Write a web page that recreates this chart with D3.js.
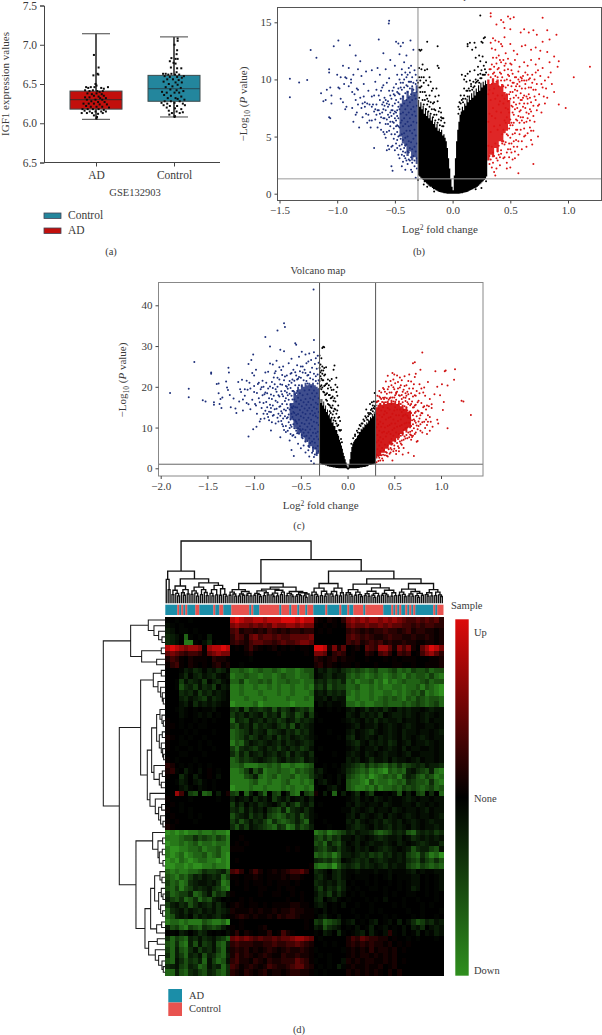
<!DOCTYPE html>
<html><head><meta charset="utf-8">
<script src="https://cdnjs.cloudflare.com/ajax/libs/d3/7.8.5/d3.min.js"></script>
<style>html,body{margin:0;padding:0;background:#fff}svg{display:block}text{font-family:"Liberation Serif",serif;fill:#3a3a3a}</style>
</head><body><svg id="c" width="602" height="1035"></svg>
<script>
// ---------- (a) box plot
const boxCategories=["AD","Control"];
const boxStats=[{min:6.05,q1:6.18,med:6.30,q3:6.41,max:7.14},{min:6.08,q1:6.28,med:6.44,q3:6.61,max:7.10}];
const boxTickValues=[5.5,6,6.5,7,7.5];
const boxTickLabels=["6.5","6.0","6.5","7.0","7.5"];
const adDots=[[-.08,6.87],[.1,6.71],[.06,6.63],[.09,6.62],[-.1,6.61],[-.02,6.5],[.02,6.48],[-.38,6.46],[-.3,6.45],[-.2,6.46],[-.06,6.46],[.2,6.45],[.46,6.46],[.3,6.44],[-.42,6.42],[-.25,6.41],[-.12,6.42],[.05,6.41],[.14,6.4],[.26,6.41],[-.33,6.38],[-.16,6.37],[.02,6.38],[.22,6.37],[-.08,6.35],[.1,6.34],[.3,6.35],[-.42,6.33],[-.25,6.33],[.16,6.32],[.38,6.32],[-.35,6.3],[-.02,6.3],[.24,6.3],[-.18,6.28],[.08,6.27],[.33,6.27],[-.48,6.25],[-.28,6.25],[-.08,6.25],[.14,6.24],[.42,6.24],[-.38,6.22],[-.2,6.21],[.02,6.21],[.24,6.21],[.5,6.2],[-.52,6.18],[-.32,6.18],[-.12,6.18],[.1,6.18],[.3,6.17],[-.44,6.16],[-.24,6.15],[-.02,6.15],[.2,6.15],[.38,6.15],[-.55,6.13],[-.35,6.13],[-.15,6.13],[.08,6.12],[.26,6.13],[-.08,6.1],[.04,6.08],[.02,6.06]];
const controlDots=[[.14,7.08],[.14,7.05],[.02,7.0],[.12,6.93],[.1,6.88],[-.1,6.83],[.06,6.82],[.14,6.82],[-.16,6.79],[-.02,6.77],[.06,6.76],[-.12,6.71],[.12,6.7],[.28,6.7],[.1,6.65],[-.42,6.63],[-.32,6.63],[-.22,6.62],[-.1,6.63],[.04,6.62],[.2,6.62],[.38,6.6],[-.36,6.6],[-.16,6.59],[.12,6.59],[.3,6.58],[-.26,6.56],[-.04,6.56],[.18,6.55],[-.4,6.53],[.06,6.52],[.3,6.52],[-.2,6.5],[.14,6.49],[-.32,6.46],[-.06,6.47],[.26,6.45],[-.14,6.43],[.1,6.42],[.36,6.41],[-.46,6.4],[-.28,6.39],[.02,6.39],[.2,6.39],[-.38,6.36],[-.12,6.35],[.28,6.34],[-.24,6.32],[.06,6.32],[.14,6.31],[.4,6.3],[-.36,6.28],[-.12,6.28],[.22,6.28],[-.48,6.26],[-.26,6.25],[.02,6.26],[.34,6.25],[-.4,6.23],[-.16,6.22],[.12,6.22],[.42,6.23],[-.28,6.2],[.04,6.19],[.28,6.18],[-.2,6.16],[.1,6.15],[.34,6.14],[-.08,6.13],[.22,6.13],[-.18,6.11],[.04,6.09],[.02,6.08]];
// ---------- (b) volcano
const bTicksX=[-1.5,-1,-.5,0,.5,1], bTicksY=[0,5,10,15];
const bBlackBand=[[-.3,1.6,8.2],[-.29,1.5,7.6],[-.28,1.4,8],[-.27,1.3,7.4],[-.26,1.2,7.7],[-.25,1,7],[-.24,1,7.5],[-.23,.9,6.8],[-.22,.8,7.2],[-.21,.7,6.6],[-.2,.6,6.9],[-.19,.6,6.4],[-.18,.5,6.7],[-.17,.4,6.1],[-.16,.4,6.3],[-.15,.3,5.8],[-.14,.25,6.1],[-.13,.2,5.5],[-.12,.15,5.7],[-.11,.12,5.4],[-.1,.1,5.6],[-.09,.08,5.1],[-.08,.05,5.2],[-.07,.03,4.9],[-.06,.02,4.6],[-.05,0,4],[-.04,0,3.1],[-.03,0,2.2],[-.02,0,1.3],[-.01,0,.6],[0,0,.3],[.01,0,1.6],[.02,0,3.1],[.03,0,4.6],[.04,0,5.6],[.05,0,6.3],[.06,.02,6.9],[.07,.03,7.2],[.08,.05,7.6],[.09,.08,7.3],[.1,.1,7.9],[.11,.12,7.7],[.12,.15,8.3],[.13,.2,8],[.14,.25,8.6],[.15,.3,8.2],[.16,.35,8.8],[.17,.4,8.4],[.18,.45,9],[.19,.5,8.6],[.2,.55,9.2],[.21,.6,8.9],[.22,.7,9.5],[.23,.8,9],[.24,.9,9.7],[.25,1,9.3],[.26,1.1,9.8],[.27,1.2,9.5],[.28,1.3,9.9],[.29,1.5,9.6],[.3,1.6,10]];
const bBlueBand=[[-.46,5,7.9],[-.44,4.4,8.6],[-.42,4.2,8.2],[-.4,3.3,9],[-.38,3.7,8.6],[-.36,2.9,9.3],[-.34,3.2,8.9],[-.32,2.6,9.5],[-.3,2.8,9.1]];
const bRedBand=[[.3,2.9,10],[.32,3.4,9.6],[.34,3.2,10.1],[.36,4,9.7],[.38,3.7,10],[.4,4.6,9.4],[.42,4.5,9.6],[.44,5.3,8.9],[.46,5.5,8.7],[.48,6.1,8.2],[.5,6.1,7.6]];
const bBlue=[-1.41,10.06,-1.41,8.45,-1.33,9.74,-1.26,9.94,-1.23,12.57,-1.18,11.9,-1.14,8.78,-1.12,8.1,-1.1,8.2,-1.09,9.1,-1.07,10.9,-1.07,10.6,-1.06,9.3,-1.05,8.6,-1.07,6.7,-1.06,6.6,-1.05,7.9,-1.03,12.9,-1,10.4,-.99,13.4,-.99,9.3,-.98,9.2,-.97,8.3,-.95,11.2,-.95,8,-.93,10.2,-.93,7.4,-.92,7.6,-.9,11,-.89,13,-.88,9.7,-.88,10,-.87,7.5,-.86,10.4,-.85,8.7,-.84,12.1,-.83,7.1,-.82,10.9,-.82,9.1,-.8,11.6,-.79,10.3,-.78,6.7,-.77,9.6,-.76,8,-.75,10.7,-.74,7.9,-.73,9,-.72,6.4,-.71,5.8,-.7,10.8,-.7,8.5,-.69,7.8,-.68,4,-.67,9.8,-.66,6.9,-.65,11,-.64,13.5,-.64,8.6,-.63,10.4,-.62,5.6,-.61,7.1,-.6,12.3,-.6,9.5,-.59,6.6,-.58,10.9,-.58,4.9,-.57,3.8,-.56,8.1,-.55,15.13,-.553,14.9,-.55,10.1,-.54,11.7,-.54,7.1,-.53,2.4,-.53,5.2,-.52,9,-.52,2,-.51,6.2,-.5,11.2,-.5,3.8,-.49,13.3,-.49,8.2,-.48,10.4,-.48,4.7,-.47,13.15,-.47,6.6,-.46,12.2,-.46,3.1,-.45,12.9,-.45,9.7,-.44,2.4,-.44,10.9,-.43,13.2,-.43,3.7,-.42,11.5,-.42,9.3,-.41,2.1,-.41,3.1,-.4,10.2,-.4,12.1,-.39,8.9,-.39,2.6,-.38,11,-.38,3.6,-.37,9.8,-.365,13.4,-.36,11.2,-.36,2.1,-.35,10.2,-.35,1.9,-.34,9.7,-.34,12.6,-.33,10.8,-.33,2.4,-.32,10.4,-.32,1.4,-.31,9.9,-.31,2.2,-.67,7.4,-.65,7.3,-.63,7,-.62,6.7,-.6,7.4,-.6,8,-.58,7.3,-.57,6.5,-.56,6.9,-.55,5.5,-.55,7.8,-.54,6.3,-.53,8.3,-.52,7.3,-.51,4.8,-.51,8.7,-.5,6.6,-.5,7.9,-.49,5.9,-.49,9.6,-.48,6.8,-.48,4,-.47,8.8,-.47,7.6,-.46,10,-.46,5.1,-.45,9.3,-.45,6.2,-.44,10.4,-.44,4.3,-.43,9.7,-.42,3.3,-.42,10,-.41,10.6,-.41,4.2,-.4,9.5,-.39,10.4,-.38,9.8,-.37,10.6,-.36,9.8,-.74,6.2,-.76,7.6,-.8,8.4,-.81,5.8,-.83,9.2,-.86,6.3,-.68,8.6,-.66,9.1,-.62,9,-.59,8.4,-.57,9.7,-.56,4.2,-.6,5.4];
const bBlueDense=[-.31,3.1,-.31,4.4,-.31,6.2,-.31,7.7,-.31,8.9,-.32,3.7,-.32,5.1,-.32,6.8,-.32,8.3,-.32,9.6,-.33,2.9,-.33,4.1,-.33,5.6,-.33,7.2,-.33,8.6,-.34,3.3,-.34,4.8,-.34,6.3,-.34,7.6,-.34,9.1,-.35,2.7,-.35,3.9,-.35,5.3,-.35,6.9,-.35,8.2,-.35,9.4,-.36,3.2,-.36,4.5,-.36,6,-.36,7.4,-.36,8.7,-.37,2.9,-.37,4,-.37,5.5,-.37,6.6,-.37,8,-.37,9.2,-.38,3,-.38,4.6,-.38,5.9,-.38,7.1,-.38,8.4,-.39,3.7,-.39,5,-.39,6.3,-.39,7.7,-.39,9.4,-.4,2.9,-.4,4.3,-.4,5.5,-.4,6.9,-.4,8.2,-.41,3.6,-.41,4.9,-.41,6.1,-.41,7.4,-.41,8.8,-.42,4,-.42,5.3,-.42,6.6,-.42,7.9,-.43,2.8,-.43,4.7,-.43,5.9,-.43,7.1,-.43,8.5,-.44,3.4,-.44,5.2,-.44,6.4,-.44,7.7,-.44,9.1,-.45,3.9,-.45,4.8,-.45,7,-.45,8.3,-.46,4.2,-.46,5.8,-.46,7.4,-.46,8.7,-.47,3.4,-.47,5,-.47,5.9,-.47,8,-.47,9.2,-.48,5.4,-.48,6,-.48,7.3,-.48,8.9,-.49,4.4,-.49,6.4,-.49,7.1,-.5,5.2,-.5,7.2,-.5,8.6,-.51,5.7,-.51,7,-.51,9.3,-.52,4.2,-.52,6.3,-.52,7.7,-.53,4.1,-.53,6.8,-.53,7.3,-.54,5.9,-.54,8.6,-.55,3.9,-.55,6.7,-.55,9,-.56,6.1,-.56,7.6,-.57,5.4,-.57,7.9,-.58,6.1,-.58,8.2,-.59,5.2,-.59,7.7,-.6,6.6,-.61,7.8,-.61,9.3,-.63,6.2,-.63,8.2,-.64,7.3,-.65,5.8,-.66,7.8,-.67,6.5,-.68,7.2,-.7,7.6,-.7,6.4,-.72,7.8,-.73,6.9,-.75,7,-.77,8.5,-.78,7.9,-.79,7.5,-.82,7.8,-.84,8.2,-.84,6.9,-.87,8.9,-.9,9.4,-.92,10.1,-.94,9.6,-.97,10.2];
const bRed=[.33,15.8,.33,15.5,.38,14.8,.42,15.2,.44,15,.45,14.5,.48,15.5,.5,15.3,.53,15.45,.78,15.4,.35,13.6,.33,13.2,.37,13.4,.4,13.3,.42,13.1,.45,13.7,.5,14.4,.59,14.1,.62,14.4,.66,14.1,.7,14.3,.73,13.9,.78,13.3,.82,14.3,.9,13.9,.84,13.5,.34,12.7,.37,12.6,.4,12.1,.43,12.9,.46,12.3,.5,13.1,.53,12.5,.56,12.2,.6,12.9,.63,13,.68,12.6,.72,12.8,.76,12.5,.82,12.4,.88,12,.92,11.6,.35,11.9,.38,11.4,.41,11.7,.45,11.2,.48,11.8,.51,11.3,.54,11.7,.58,11.1,.62,11.5,.65,11.2,.68,11.7,.72,11.3,.75,11.8,.78,11,.84,11.5,.91,11.1,1.19,11.1,1.05,10.2,.33,10.9,.36,10.6,.39,10.9,.42,10.5,.45,10.8,.48,10.4,.51,10.8,.54,10.2,.57,10.7,.6,10.1,.63,10.6,.66,10,.69,10.4,.72,10.6,.76,10.3,.8,9.9,.85,10.6,.52,9.7,.55,9.4,.58,9.8,.6,9.2,.63,9.6,.66,9.3,.69,9.7,.72,9.1,.75,8.7,.78,9.3,.82,8.4,.88,8.9,.92,7.8,.98,7.5,.5,8.9,.53,8.4,.56,9,.59,8.2,.62,8.6,.65,8.3,.68,8,.71,8.5,.74,7.7,.77,7.1,.8,7.9,.52,7.6,.55,7.8,.58,7.2,.61,7.6,.64,7.1,.67,7.4,.7,6.8,.48,7.4,.5,6.5,.53,6.9,.56,6.4,.59,6.7,.62,6.2,.65,6.6,.67,5.8,.7,5.5,.74,5,.46,6.2,.49,5.7,.52,6,.55,5.6,.58,5.2,.62,5,.68,4.7,.69,4.3,.64,4.1,.57,3.4,.44,5.6,.47,5.2,.5,4.9,.53,4.6,.56,4.1,.6,3.9,.45,4.3,.48,3.9,.51,3.6,.54,3.1,.7,2.6,.42,3.8,.44,3.1,.47,2.7,.5,2.3,.57,1.8,.4,3.4,.41,2.5,.38,2.2,.37,1.6,.34,2.3,.36,1.9,.32,2.6,.35,2.7,.39,2.9,.47,2.2];
const bRedDense=[.31,10.4,.31,8.7,.31,6.3,.31,4.2,.32,10.9,.32,9.1,.32,7,.32,3.3,.33,10.2,.33,8.2,.33,5.4,.33,3,.34,11.3,.34,9.6,.34,6.8,.34,4.1,.35,10.5,.35,8.8,.35,7.5,.35,3.6,.36,11.1,.36,9.2,.36,5.9,.36,3.3,.37,10.3,.37,8.3,.37,6.6,.37,4.4,.38,11.9,.38,9.8,.38,7.2,.38,3.1,.39,10.2,.39,8.6,.39,5.6,.39,3.7,.4,11,.4,9.4,.4,7.8,.4,4.2,.41,10.6,.41,8.1,.41,6,.41,3.2,.42,11.5,.42,9.9,.42,7.1,.42,3.5,.43,10.2,.43,8.6,.43,5.2,.43,4.4,.44,11.7,.44,9.4,.44,7.9,.44,4.6,.45,9.9,.45,8.3,.45,6.4,.45,3.2,.46,11.4,.46,9.3,.46,7.5,.46,4.5,.47,10,.47,8.7,.47,6.7,.47,3.6,.48,10.9,.48,9.5,.48,8.1,.48,5.1,.49,10.3,.49,8.7,.49,7.1,.49,4.4,.49,3.2,.5,11.4,.5,9.9,.5,8.3,.5,6,.5,3.9,.51,9.4,.51,7.7,.51,6.2,.51,4.4,.52,10.5,.52,8.9,.52,7.1,.52,5.2,.52,3,.53,9.7,.53,8,.53,6.2,.53,4.1,.54,9.1,.54,7.4,.54,5.3,.54,3.7,.55,10.2,.55,8.6,.55,6.5,.55,4.7,.56,9.6,.56,7.5,.56,5.6,.57,10,.57,8.4,.57,6.8,.57,4.6,.58,9.4,.58,7.9,.58,6.2,.59,10.2,.59,8.8,.59,7.3,.59,5.6,.6,9.9,.6,8.2,.6,6.4,.6,4.6,.61,10.3,.61,8.4,.61,6.7,.62,9.9,.62,7.9,.62,5.7,.63,9.2,.63,7.5,.63,5.1,.64,9.9,.64,8.5,.64,6.3,.65,10.4,.65,7.9,.65,5.3,.66,8.7,.66,7,.67,10.1,.67,8.4,.67,6.4,.68,9.3,.68,7.2,.68,5.5,.7,9.1,.7,7.7,.71,10,.71,6.3,.72,8.2,.73,9.6,.73,7.3,.74,10.8,.75,7.8,.77,9.6,.79,8.5,.81,9.2,.83,10.2,.86,9.6];
const bBlack=[-.29,12.6,-.27,12.6,-.28,12.5,-.22,13.3,-.13,12.9,-.29,11,-.27,10.9,-.26,11.3,-.24,10.8,-.22,10.9,-.2,10.2,-.27,10.2,-.25,9.7,-.23,9.9,-.21,9.5,-.19,9.8,-.17,9.2,-.15,8.5,-.13,11.2,-.12,11,-.12,8.6,-.16,8,-.13,8.1,-.11,7.5,-.1,7.1,-.14,9.2,-.18,9,-.2,8.6,-.27,9.4,-.24,8.9,-.29,9.3,-.26,8.9,-.22,8.3,-.09,6.6,-.07,6.2,-.08,5.9,-.29,10.2,-.28,9.9,-.16,7.4,-.19,8,-.25,10.2,.24,15.6,.13,13.1,.15,13.2,.19,13.2,.2,12.8,.25,13.3,.27,13.6,.28,13.7,.26,13.2,.13,12.9,.17,12.6,.2,11.9,.23,12.1,.24,11.6,.26,12,.22,11.1,.27,11.2,.28,10.9,.08,10.4,.1,10,.11,10.3,.13,10.5,.15,10.7,.19,10.8,.22,10.4,.12,9.8,.15,9.9,.2,10,.24,10.1,.27,10.4,.1,9.2,.07,8.6,.09,8.3,.06,7.4,.05,7,.13,9,.16,9.4,.18,9.3,.29,11.5,.29,10.6,.25,10.8,-.2,1,-.25,.8,-.22,.6,-.16,.2,.25,.5,.2,.4,.29,1.1,-.3,1.2,-.29,8.4,-.28,8.9,-.26,8.2,-.25,7.8,-.24,8.2,-.23,7.4,-.22,7.8,-.21,7.2,-.2,7.6,-.19,7,-.18,7.4,-.17,6.7,-.16,6.9,-.15,6.4,-.14,6.9,-.13,6.2,-.12,6.5,-.11,6,-.1,6.4,-.09,5.9,-.3,9.7,-.28,9.3,-.23,8.6,-.21,8.1,-.17,7.9,-.15,7.3,-.12,7.2,-.1,6.7,-.08,6.6,.05,7.6,.06,8,.07,7.9,.08,8.2,.09,8,.1,8.6,.11,8.3,.12,9,.13,8.5,.14,9.2,.15,9,.16,9.6,.17,9.1,.18,9.8,.19,9.4,.2,9.7,.21,9.8,.22,9.9,.23,9.7,.24,10.5,.25,10.1,.26,10.4,.28,10.4];
// ---------- (c) volcano
const cTicksX=[-2,-1.5,-1,-.5,0,.5,1], cTicksY=[0,10,20,30,40];
const cBlackBand=[[-.3,1.2,17],[-.29,1.1,16],[-.28,1,17],[-.27,.9,15.4],[-.26,.9,16.4],[-.25,.8,14.6],[-.24,.7,15.4],[-.23,.7,13.8],[-.22,.5,14.4],[-.21,.5,13],[-.2,.4,13.4],[-.19,.4,12.2],[-.18,.3,12.4],[-.17,.3,11.2],[-.16,.2,11.4],[-.15,.2,10.4],[-.14,.2,10.4],[-.13,.1,9.4],[-.12,.1,9.4],[-.11,.1,8.4],[-.1,0,8],[-.09,0,7],[-.08,0,6.4],[-.07,0,5.6],[-.06,0,4.8],[-.05,0,3.8],[-.04,0,3],[-.03,0,2.2],[-.02,0,1.4],[-.01,-.2,.7],[0,-.4,.2],[.01,-.2,1],[.02,0,2.2],[.03,0,4],[.04,0,5.2],[.05,0,6],[.06,0,6.5],[.07,0,6.9],[.08,0,7.2],[.09,0,7.4],[.1,.1,8],[.11,.1,8.2],[.12,.1,8.9],[.13,.2,8.9],[.14,.2,9.7],[.15,.2,9.5],[.16,.3,10.2],[.17,.3,10],[.18,.3,10.9],[.19,.4,10.6],[.2,.5,11.3],[.21,.5,11],[.22,.7,12],[.23,.8,11.7],[.24,.8,12.6],[.25,.9,12.3],[.26,1,13.3],[.27,1,12.8],[.28,1.1,13.9],[.29,1.1,13.3],[.3,1.2,14.3]];
const cBlueBand=[[-.62,12,16],[-.58,10,19],[-.56,9.6,18],[-.54,8.4,20],[-.52,8.6,19.4],[-.5,7.4,20.6],[-.48,7.6,20],[-.46,6.4,21],[-.44,6.8,20.4],[-.42,5,21],[-.4,5.4,20.6],[-.38,4,21],[-.36,4.6,20.4],[-.34,3,20],[-.32,3.6,19.6],[-.3,2.6,19]];
const cRedBand=[[.3,2.4,15],[.32,3,15.6],[.34,3,16],[.36,3.8,15.6],[.38,3.8,16.4],[.4,4.8,15.8],[.42,4.8,16.6],[.44,5.8,16],[.46,5.6,16.8],[.48,6.6,16],[.5,6.4,16.6],[.52,7.4,15.8],[.54,7.4,16.2],[.56,8.4,15.2],[.58,8,15.6],[.6,9.2,14.6],[.62,8.8,15],[.64,10,13.8],[.66,9.8,14.2],[.68,10.6,12.8]];
const cBlue=[-1.9,18.45,-1.7,19.5,-1.7,17.45,-1.64,26.1,-1.55,16.7,-1.52,16.4,-1.46,23.5,-1.46,23.2,-1.43,16.2,-1.43,15.6,-1.4,20.7,-1.38,20.8,-1.38,18.4,-1.36,17,-1.37,15.8,-1.35,14.8,-1.34,17.4,-1.3,21.3,-1.29,19.8,-1.28,19.2,-1.275,24.7,-1.27,23.5,-1.26,18,-1.25,15,-1.22,17.1,-1.2,14.7,-1.19,13.6,-1.17,21.2,-1.16,16.4,-1.15,19.4,-1.13,21.7,-1.12,14.2,-1.1,17.8,-1.08,16,-1.07,19.3,-1.06,25.6,-1.06,7.8,-1.05,21,-1.04,14.5,-1.03,26.6,-1.02,23.4,-1.01,27.9,-1.01,9.6,-1,18.7,-1,22.8,-.99,15.8,-.98,24.2,-.975,10.2,-.97,13.4,-.96,20.7,-.95,17.2,-.94,11.5,-.93,19.4,-.92,14.8,-.91,21.5,-.9,16,-.89,12.2,-.88,32.2,-.88,18.6,-.87,21,-.86,15,-.85,23.7,-.84,11.8,-.84,13.9,-.83,29.9,-.83,20.1,-.82,9.3,-.81,17,-.8,25.5,-.8,12.9,-.79,22.3,-.78,14.5,-.77,19.4,-.76,26.4,-.75,33.8,-.75,16.2,-.74,11.5,-.73,21.8,-.72,29.1,-.72,7.6,-.71,24.1,-.7,18.2,-.7,13.5,-.69,10.3,-.68,35.6,-.68,28.7,-.67,34.7,-.67,22.5,-.66,8.9,-.65,20,-.65,15.7,-.64,12.5,-.63,25.8,-.62,18.3,-.62,6.8,-.61,10.6,-.6,26.9,-.6,4.5,-.6,21,-.59,16.9,-.58,13.8,-.58,8.2,-.575,3,-.56,30.7,-.56,23.6,-.55,30.3,-.55,18.5,-.55,11.4,-.54,25.3,-.53,6,-.52,27.4,-.52,22.4,-.51,9.6,-.5,25,-.5,4.9,-.49,28.6,-.48,23.5,-.47,5.6,-.46,24.2,-.45,27.9,-.45,3.9,-.44,25.8,-.43,22.8,-.42,26.2,-.41,28.2,-.41,2.9,-.4,23.6,-.39,26.6,-.39,1.8,-.38,24.7,-.364,43.9,-.36,31.5,-.36,28.5,-.36,23.2,-.36,1.2,-.35,25.6,-.34,27,-.34,22.6,-.33,24.4,-.32,27.6,-.32,23,-.31,25.9,-.31,21.6,-.7,22.9,-.66,17.2,-.64,19.5,-.63,13.2,-.61,23.2,-.6,15,-.59,19,-.58,12,-.56,20.4,-.54,8.6,-.48,7.4,-.42,4.4,-.36,2.8,-.9,20,-.86,18.4,-.82,14.8,-.77,23.8,-.75,20,-.73,17.6,-.72,15.2,-.7,10.8];
const cBlueDense=[-.31,4.2,-.31,7.1,-.31,10.6,-.31,13.8,-.31,17.2,-.32,5.5,-.32,9,-.32,12.4,-.32,15.7,-.32,20.8,-.33,3.7,-.33,7.8,-.33,11.2,-.33,14.6,-.33,18.4,-.34,4.9,-.34,8.6,-.34,12.8,-.34,16.1,-.34,21.4,-.35,6.3,-.35,9.7,-.35,13.5,-.35,17.6,-.35,3.4,-.36,7.2,-.36,11.4,-.36,15,-.36,19.1,-.37,5.1,-.37,8.7,-.37,13,-.37,16.8,-.37,21.8,-.38,6.6,-.38,10.3,-.38,14.1,-.38,18.4,-.38,3.8,-.39,8,-.39,11.9,-.39,15.6,-.39,20,-.4,6.2,-.4,9.5,-.4,13.4,-.4,17.2,-.4,22.1,-.41,7.4,-.41,11,-.41,14.8,-.41,19.2,-.42,5.5,-.42,8.8,-.42,12.4,-.42,16.3,-.42,22.9,-.43,6.7,-.43,10.2,-.43,14.2,-.43,18.2,-.43,20.8,-.44,8,-.44,11.8,-.44,15.6,-.44,21.4,-.45,6.6,-.45,9.4,-.45,13.3,-.45,17,-.45,23.4,-.46,7.8,-.46,10.9,-.46,14.7,-.46,19.1,-.47,8.7,-.47,12.4,-.47,16.2,-.47,21.6,-.48,9.6,-.48,13.7,-.48,17.9,-.48,25,-.49,8.2,-.49,11.1,-.49,15.2,-.49,20.2,-.5,9.2,-.5,12.8,-.5,16.7,-.5,22.2,-.51,10.3,-.51,14.3,-.51,18.4,-.51,23.8,-.52,8.5,-.52,11.9,-.52,15.8,-.52,20.4,-.53,9.8,-.53,13.3,-.53,17.3,-.53,22,-.54,11,-.54,14.9,-.54,19,-.54,21.8,-.55,9.2,-.55,13.1,-.55,16.4,-.55,22.8,-.56,7.6,-.56,11.8,-.56,15,-.56,18.2,-.57,9.8,-.57,13.6,-.57,16.9,-.57,21.5,-.58,10.8,-.58,15.2,-.58,19,-.58,24.2,-.59,8,-.59,12.6,-.59,14.8,-.59,21.8,-.6,10.2,-.6,13.4,-.6,17.8,-.6,23.4,-.61,8.4,-.61,12,-.61,15.6,-.61,19.7,-.62,9.9,-.62,14.4,-.62,21.4,-.63,11.3,-.63,16.8,-.63,20.5,-.64,9.2,-.64,14.8,-.64,17.9,-.65,12.3,-.65,18.6,-.65,22.8,-.66,10.4,-.66,14.2,-.66,20.2,-.67,12.8,-.67,16.5,-.67,19,-.68,9.4,-.68,14.4,-.68,21.6,-.69,12.2,-.69,17.7,-.69,25,-.7,15.8,-.7,20.5,-.71,11.6,-.71,14,-.71,18.9,-.72,12.9,-.72,20.6,-.73,15.1,-.73,24.8,-.74,13.4,-.74,17.9,-.75,12.4,-.75,22.2,-.76,14.6,-.76,18.8,-.77,11,-.77,16.6,-.78,20.6,-.78,23.3,-.79,13.1,-.79,17.8,-.8,15.4,-.8,19.7,-.81,11.3,-.81,21.2,-.82,13.8,-.82,18.1,-.83,15.6,-.83,25.7,-.84,17.2,-.85,12.6,-.85,19.6,-.86,13.3,-.87,16.3,-.88,14.1,-.88,23.5,-.89,18.2,-.9,13.4,-.91,17.9,-.92,19.9,-.93,12.1,-.94,16.2,-.95,21,-.97,18.5,-.98,15.4,-1,20.2,-1.02,16.8,-1.04,19.6,-1.06,15.7,-1.08,21.5,-1.1,19.4,-1.12,16.9,-1.14,18.7];
const cRed=[1.32,13.1,1.24,16.4,1.22,16.6,1.15,24.3,1.14,21.7,1.07,20.3,1.07,9.8,1.05,24,1.04,23.8,1.03,16.3,1.02,14.3,1.01,20.6,.99,17.9,.97,11,.96,11.9,.96,20,.94,23.8,.93,18.2,.9,14.8,.88,17,.86,21.2,.85,15.4,.84,12,.82,19.8,.81,18.6,.8,28.4,.8,11.3,.79,16,.78,24.2,.77,20.6,.76,14,.75,6.7,.74,6.5,.73,23.2,.73,17.8,.72,26,.72,22.4,.71,3,.71,12,.7,25.8,.7,19.6,.69,7.7,.68,21.3,.68,15.8,.67,9,.66,23,.65,18.2,.65,3.8,.64,12.9,.63,20.4,.62,16.5,.62,7.3,.61,22.6,.6,14.3,.6,19.3,.59,3.4,.58,18,.58,21.6,.57,6.1,.56,22.3,.55,17.9,.55,5,.54,19.6,.53,22.8,.52,18.3,.52,3.5,.51,20.9,.5,23,.5,17.4,.49,19.9,.48,23.4,.48,1.9,.47,18.6,.46,21.4,.45,17.2,.45,3.6,.44,20,.43,22.7,.43,2.9,.42,18.3,.41,21.3,.4,17.4,.4,3.2,.39,19.4,.38,17.3,.37,2.4,.36,18.6,.35,17.3,.35,1.9,.34,19,.33,16.5,.33,1.8,.32,17.8,.31,16.2,.31,1.5,.72,15.4,.73,13.9,.75,16.2,.76,11.5,.78,13,.78,9.2,.8,13.5,.82,15.2,.83,9.9,.85,10.6,.86,13,.88,9.2,.89,11.4,.9,15.7,.74,10.5,.72,8.4,.7,14.9,.68,8.1,.66,17,.64,16.2,.62,17.3,.6,7,.58,5.8,.56,17.8,.54,5.4,.52,18.6,.5,4.8,.46,3.9,.42,3.1,.38,1.9];
const cRedDense=[.31,3.3,.31,6.4,.31,10.1,.31,13.4,.32,4.7,.32,8.2,.32,12,.32,16.4,.33,3,.33,6.8,.33,10.8,.33,14.6,.34,2.6,.34,5.6,.34,9.2,.34,13,.34,17.6,.35,4.2,.35,7.6,.35,11.4,.35,15.7,.36,3.2,.36,6.4,.36,10.2,.36,14.2,.36,17,.37,5,.37,8.8,.37,12.6,.37,16.3,.38,3.3,.38,7.2,.38,11,.38,15,.38,19.7,.39,4.4,.39,9,.39,13.2,.39,17,.4,5.8,.4,10,.4,14,.4,18.8,.41,4,.41,7.8,.41,12,.41,16.2,.42,3.8,.42,8.6,.42,13.6,.42,17.2,.43,5.6,.43,10.4,.43,14.8,.43,19.4,.44,4.7,.44,9,.44,12.4,.44,16.8,.45,6.4,.45,10.6,.45,14.4,.45,18.6,.46,5,.46,8.4,.46,12.6,.46,17.4,.47,4.6,.47,7.2,.47,11,.47,15.8,.47,20.4,.48,6,.48,9.4,.48,13.4,.48,17.4,.49,4.2,.49,8,.49,12,.49,16.4,.49,21.8,.5,5.6,.5,9.8,.5,14.2,.5,19.4,.51,6.8,.51,11,.51,15,.51,17.9,.52,4.3,.52,8.8,.52,13,.52,16.8,.53,6.2,.53,10.2,.53,14.4,.53,18.8,.54,7.2,.54,11.6,.54,15.6,.54,21.2,.55,4.2,.55,8.4,.55,13,.55,16.4,.56,6.6,.56,10.4,.56,14.4,.56,19.8,.57,8,.57,12,.57,15.8,.57,20.4,.58,6.8,.58,10.6,.58,13.8,.58,17,.59,8.6,.59,12.8,.59,16.2,.59,18.8,.6,5,.6,9.4,.6,13,.6,17.4,.61,7.8,.61,11,.61,15.2,.61,20.2,.62,9.8,.62,13.2,.62,18.4,.63,8.2,.63,11.2,.63,15,.63,17.8,.64,7.4,.64,10,.64,14.2,.64,18.8,.65,8.8,.65,12.4,.65,15.8,.65,21.4,.66,7.6,.66,11.2,.66,13.8,.66,19.6,.67,8.3,.67,12.3,.67,15.5,.68,7,.68,10.4,.68,13.6,.68,18.4,.69,9.2,.69,11.8,.69,16.4,.7,8,.7,10.8,.7,13,.7,17.6,.71,9.8,.71,15,.71,20.6,.72,11.6,.72,13.6,.72,17.9,.73,8.8,.73,11.2,.73,15.6,.74,12.8,.74,19,.75,9.6,.75,14.2,.76,10.4,.76,16.6,.77,12.2,.77,18.4,.78,10.8,.79,13.6,.79,19.6,.8,8.8,.81,15,.82,11.4,.83,17.8,.84,14.4,.85,8.4,.86,11.4,.87,15.2,.88,12.6,.91,10.2];
const cBlack=[-.26,29.8,-.27,29.5,-.25,29.7,-.3,27.7,-.28,27,-.29,25.5,-.27,25,-.25,24.6,-.23,24.8,-.26,24,-.14,25.2,-.15,24.2,-.12,22.2,-.21,21.8,-.19,21.5,-.17,21.9,-.23,20.7,-.13,20.5,-.11,19.9,-.18,19.8,-.15,19.3,-.12,18.7,-.29,22.6,-.27,21.6,-.25,20.2,-.22,18.4,-.2,18,-.17,17.3,-.14,17.2,-.11,17.8,-.1,15.4,-.13,14.4,-.16,13.2,-.19,15.4,-.24,18,-.08,11.6,-.1,12.4,-.07,9.4,-.29,20.1,-.28,19.4,.2,14.4,.22,13.6,.25,14.3,.24,15.8,.26,16.2,.28,16.4,.29,18.5,.27,15.4,.29,15.2,.17,12,.19,12.8,.13,10.6,.15,11,.1,9.2,.08,8.3,-.3,24.6,-.3,21.4,-.29,23.6,-.28,24,-.28,22,-.27,23.2,-.27,19.8,-.26,21.6,-.26,18.8,-.25,22.8,-.25,18.6,-.24,20.4,-.24,23,-.23,18.2,-.23,16.8,-.22,20.8,-.22,16.6,-.21,19.6,-.21,15.8,-.2,20.4,-.2,15.6,-.19,18,-.19,14,-.18,17.2,-.18,15,-.18,13.6,-.17,19.2,-.17,14.8,-.17,12.4,-.16,17.6,-.16,15.4,-.15,16.6,-.15,14,-.15,11.8,-.14,14.6,-.14,12.4,-.13,16.4,-.13,11.6,-.12,13.4,-.12,11,-.11,14.2,-.11,10.4,-.1,10.6,-.09,12.6,-.09,9.4,-.08,9.2,-.07,7.2,-.06,6.4,-.28,20.4,-.3,19.6,.04,6,.06,7.4,.08,7.9,.11,8.8,.12,9.7,.14,10.4,.16,11,.18,11.6,.2,12.4,.21,11.9,.22,12.8,.23,13.2,.24,13.6,.25,13.4,.26,14.6,.27,14,.28,14.8,.29,14.6,.3,15.4,.3,16.4];
// ---------- (d) heat map
const heatRows=[
"a.a..a........ HIHGGHHGHHHIIIHIHH BA.BA.C FGFGFGGFGFGFEDDEDEDEC",
"ba.a.......... FGFFEFEFEGFFGGFGFF A.A.A.A EFEEFEEFEFEEDDCDCDDCC",
"cb.aa.a....... DEBCCBCBDCBCBCCBCC .A.A... CDCBCBCCDCCBCDBCCBBAB",
"dcb.ga.a.c.... CEDBEFDEEDEDDEEEEF ....... DEDCDCBBCDCCBBCBBCBAB",
"dcb.hha.bd.a.. CDCBDEEDDCDEDDEFFE ....... DCDBCDCDBCBBCBBAABBAB",
"HIHGFGGFAGHHIH .A.BDBA.AB.A.A.AA. IIHBFBE .AB.EDCGGEBFDFB.EGIHF",
"EFEDCDDCAEFGFF ...AB.....A.....A. FFE.CDC .A..CB.DEC.DCD.ADFGEC",
"BDCA.BAAA.CBBA ....a............. CBABCAB AA..A...A.A.AAA...AAB",
"ACDA.BA.A.BCAB ..a............... BCABA.A A.A...A...AA..A..AAAB",
"...acbdcacbdca ggfghgfggfghgghgff acbdcbd efefgfeggfegfgeffegff",
"...bdacdbcdbab hggfgghgghgfgghggf abcdbcc fgfghgfghgfghfgffgegh",
"..aebdcbeacdba ggehggfgfhggfgghgg cdcedec gfhggfhgighgfgggfegff",
"..afdcebdceacb hhghhghhghghhghhgh decfdee ggfhhghghhgghggfhfghi",
"...dcdbecdbcba hhghhhghhhghhghhhg bcbdcdc ghghhghhgghghgfgehghi",
"...cdbcdebdcba hhhghhhghhhhghhhgh bbcacbb hhghhghgfgfghfgefgffg",
"...bcadbcbcbaa ihhhhgihhhhhhihhhh .babaab gghghhggfgggfgfefgfeg",
"..aba.a.aab... debfcdedcfcedbdedf ...a.a. bcabdbcbdbacbcbbabcbb",
"...ba.abab.a.. ecdbdcbecdbfdcfebe a...... cbacbcbdabccbcbabcbab",
"A..a..a.a.a... gcdebcdbdcedbcecdc .a....a bcbacbdbcbbcabbabcabb",
"AA.a.a.aa..... efcdbecdcbdecfbdcb ....... abcabbcabcbabcbaabbab",
"A...a.a...a... gfedbdcbedcbdcecdb ...a... bcabcdbabcbacbbabbabc",
"BA.a.a..a..... gfecedbcdbecdbcdcb a....a. cdabcbacbcbacbabcbabb",
"A..aa..a.a.... hfgdbcdcbcdbdcbcdc ....... bcdbacbcbdcabcabbcbab",
"A.a..a.a..a... egdcdecbdcecbdcedb .a..... abcabbcabcbacabbaabab",
"...aa...a..... dfcebcdbcdbcebdcbd ....a.. bcbacbabcbbabcaabbbab",
"A.a...a....... gfdedcbcdecbdcdebc a...... cbcabdbbcacbbabcabbab",
"CB.a.a.a.a.... ggfhhhggfgfhhghhgf ..a.a.b cdefdfefgefdfedcdbccd",
"BCa.ca.b.A.a.. hhgebfdhggfgghfgfe bca..ab defgfhghifgfgcbdefcgh",
"A..db.ca.A.b.. hhhfecghgfhggfhgge cb.a.ba efghgihgfgfhecdfgefhg",
"..acb.bca.a... hhhhgfhhghhgfhhghg .bca.b. fgghifhgghgfgdeffgdgh",
"...bca.ba.a... ihhhghhghhhghghhgh a..bca. fghhghfhggfgefefgfegf",
"..GD.ef.gf.c.B ef.gc.dg.ef.cgh.ef B.c.g.c .bd.ce..a.bf.c.ef.d.g",
"A....a.....a.. cabcadbcaecbdabcac ....... abcabacbabaabcbabbabb",
".A.a.......... ebdacbdcbacebdfcbd .a..... bacbabbacbaabbacbabab",
"A..a.a........ dcebdbcadefcgdcbdb ......a acbabcabbacbabbabcabb",
".A...a.a...... fdcbecdbefgfdecfdb a...... bcacbabcacbabcbabbabc",
"A.A...a....... ecfdbdcegdfgfecegb ..a.... cbdbabcbdcbcabcbabcbb",
"BA............ dfcebcdefgdehgdfec ...a... bcdcbacbcdbcbacbabbcb",
"ihihihhghhghhi .................. hgfhgfe cdbccdfgfecdcfgdcdced",
"hhhgffdfefgefh ..A............... efdfdeb bacbabcdcbbcabdcbcbcb",
"ihhghgfhgghggh .A.A.............. fegcefc abcabcbbcbacbabcdcbbd",
"hiihhggfhggfhh AAA.........A.A... defdcec bacbcabcdcbabcfdccefb",
"hihgihggfhgfhi .................. gfgfhfc cbcdcedecdbcbefgdfhgi",
"ihighihgghhihi .A................ cdedfea bcdcdbcdcbbcbdefcefdf",
"iihhihiihhghhi .................A ghhgifd cdecdcbcdbcbbefgefgfg",
"ghghhggfdeedcf DEC.BDB.ABABCDDEC. dcb.cdb aabaaabaabaaabcabaabb",
"fghfgecdbcdcge AA.AABA.AAABABBA.. cdbacdb a.aaa.a.ab.aaabb.a.ab",
"egfhgdcbbcbdhg .A.A.AA.A.AAA.A... dcbcbdc .a..a.a..a.a.abb.a.ab",
"fgehfecdcbdegh ...A..AA..A.AA.... cebdcec a.a..aa.a..a.acb.a.ab",
"dgfeecgfdbfdeb A.....A..AA..A.A.. bdcebdb .a.a....a.a..aa..a.a.",
"cefdgfdgefcb.a ..A.A.......A..A.. cd.bca. a...a.a.b...a..a...a.",
"ecbdcfdbcdbdb. ABA.AA.A.AAAABBAA. bcb.a.b ..a..a....a.a...a.a..",
"gdcbdbcdbcbdcb BAAABABAABABBCBBAA a.b.a.. .a...a.a.....a..a...a",
"gfcbcadbcbcdba ABCBABAABACBCCBAAA .bca.b. ..a.a...a.a...a.a..a.",
"hgghghhhfghhgi ..A.............A. edgfeda bc.a.bc.ab.c.bdfecdbc",
"cfeghefgdefeca A.A...AB........A. cbfdcb. a.b.ac.ab.a.b.cbd.bcb",
".a.cb.bdca.a.b AC.BA.AAC.ADBA.... a.cb.da .abc.ca.bCa.b.ac.bacb",
"dgefgcdbdcbdeg EFEFEDEDDEDEEFGGFE .a..... BDCEDCCBB.A..a.a...a.",
"fgdghcfbedbfgc CDCCCBBCCDCCDDEDCB ..a.a.. BCBCBCBBAB.A.A.......",
"egcfgdbecdbegb BCBCABABCBABCBBCBA a.....a ABABACABBAB.A........",
"dgcegcdbfcdfgc BDBCBABCBAACBBCBBA .a.a... ABABBABABAB..........",
"fgbdfdecgbegfb CDBBACBACBBCCCEDCA a..a..b BABABBAABAB.A........",
"dcbefcdgfbdcgd DCABCBABDCBBCDEECB .a.a.ca ABAABAAB.AB..........",
"ggcfgdcefcdfgd CBACBABCABBABCCBBA a.a.... BABABABA.B.B........."];
const sampleGroups=["AD","Control"];
const sampleRuns=[6,1,1,1,1,1,4,2,7,1,2,2,4,9,1,1,3,10,1,4,1,3,1,3,1,3,6,1,6,1,3,1,2,5,1,9,4,1,1,1,1,1,2,1,1,1,1,1,9,1,1,3]; // alternating AD / Control
const p=h=>[h,0,0], t=(h,k)=>[h,0,[k,0,0]];
const colTree=[187,
 [90,[63,0,p(30)],[65,[42,[28,p(14),t(18,10)],[30,t(20,12),p(16)]],[52,[38,[26,p(15),t(19,9)],[30,p(14),t(21,11)]],[44,[30,t(18,10),p(13)],[33,p(12),t(15,9)]]]]],
 [127,
  [50,[30,[22,p(12),t(16,9)],[24,[16,p(10),p(12)],[18,p(12),p(10)]]],[38,[32,[26,[18,p(12),t(14,8)],[20,p(11),p(13)]],[28,[19,t(13,8),p(10)],[22,p(14),0]]],[24,[18,p(11),t(13,8)],[20,[14,p(9),p(11)],[16,t(10,7),0]]]]],
  [90,
   [50,[35,[22,p(12),t(15,9)],[25,p(11),[16,p(9),0]]],[35,[24,t(16,9),p(12)],[20,p(10),0]]],
   [65,[48,[30,[20,p(13),t(15,9)],[22,p(12),t(14,8)]],[36,[25,[17,p(11),p(9)],[18,t(12,7),p(10)]],[28,[18,p(12),t(13,8)],[20,p(9),p(11)]]]],
       [50,[32,[22,p(12),t(15,8)],[24,[16,p(10),p(9)],[18,t(11,7),p(12)]]],[30,[20,t(14,9),p(10)],[22,p(11),t(13,8)]]]]
  ]
 ]
];
const rowTree=[186,
 [104,[51,0,[34,0,[20,0,[10,0,0]]]],[71,[12,0,0],[26,0,0]]],
 [138,
  [74,[36,[12,0,0],[22,0,[14,0,[9,0,[6,0,0]]]]],
      [54,[41,[26,[16,0,[10,0,[6,0,0]]],[18,[9,0,0],[12,0,[8,0,[5,0,0]]]]],[34,0,[18,[9,0,0],[12,0,0]]]],[46,0,[30,0,[20,[11,0,0],[14,0,[7,0,0]]]]]]],
  [88,[38,0,[22,[8,0,0],[18,[9,0,0],[7,0,0]]]],
      [61,[44,[32,[16,0,[10,0,0]],[20,[12,0,[7,0,0]],[14,0,[8,0,0]]]],[26,[11,0,0],0]],[50,[24,0,0],[30,0,[20,0,[10,0,[6,0,0]]]]]]]
 ]
];
const heatLabels=["Up","None","Down"];

// ---------- helpers
const svg=d3.select("#c");
const pairs=a=>d3.range(0,a.length,2).map(i=>[a[i],a[i+1]]);
const minus=s=>String(s).replace("-","\u2212");
function label(x,y,txt,size,anchor){return svg.append("text").attr("x",x).attr("y",y).attr("font-size",size).attr("text-anchor",anchor||"middle").text(txt);}
function volcano(o){
  const x=d3.scaleLinear().domain(o.xd).range(o.xr), y=d3.scaleLinear().domain(o.yd).range(o.yr);
  const g=svg.append("g");
  const clip="clip"+o.id;
  svg.append("clipPath").attr("id",clip).append("rect").attr("x",o.f[0]).attr("y",o.f[1]).attr("width",o.f[2]-o.f[0]).attr("height",o.f[3]-o.f[1]);
  const pl=g.append("g").attr("clip-path",`url(#${clip})`);
  const area=d3.area().curve(d3.curveStepAfter).x(d=>x(d[0])).y0(d=>y(d[1])).y1(d=>y(d[2]));
  pl.append("path").attr("d",area(o.blueBand)).attr("fill",o.blue).attr("opacity",o.bandOp[0]);
  pl.append("path").attr("d",area(o.redBand)).attr("fill",o.red).attr("opacity",o.bandOp[1]);
  pl.append("path").attr("d",area(o.blackBand)).attr("fill","#000");
  [[o.blackPts,"#000"],[o.bluePts,o.blue],[o.redPts,o.red]].forEach(([a,c])=>{
    pl.selectAll(null).data(pairs(a)).join("circle").attr("cx",d=>x(d[0])).attr("cy",d=>y(d[1])).attr("r",1).attr("fill",c);
  });
  o.vlines.forEach(v=>pl.append("line").attr("x1",x(v)).attr("x2",x(v)).attr("y1",o.f[1]).attr("y2",o.f[3]).attr("stroke",o.lineV).attr("stroke-width",1));
  pl.append("line").attr("x1",o.f[0]).attr("x2",o.f[2]).attr("y1",y(o.h)).attr("y2",y(o.h)).attr("stroke",o.lineH).attr("stroke-width",1);
  g.append("rect").attr("x",o.f[0]).attr("y",o.f[1]).attr("width",o.f[2]-o.f[0]).attr("height",o.f[3]-o.f[1]).attr("fill","none").attr("stroke",o.frame).attr("stroke-width",1);
  const ax=g.append("g").attr("transform",`translate(0,${o.f[3]})`).call(d3.axisBottom(x).tickValues(o.tx).tickSize(3).tickPadding(3).tickFormat(d=>minus(d3.format(".1f")(d))));
  const ay=g.append("g").attr("transform",`translate(${o.f[0]},0)`).call(d3.axisLeft(y).tickValues(o.ty).tickSize(3).tickPadding(3).tickFormat(d=>d));
  [ax,ay].forEach(a=>{a.select(".domain").remove();a.selectAll("line").attr("stroke","#444");a.selectAll("text").attr("font-size",11).attr("font-family","Liberation Serif").attr("fill","#3a3a3a");});
  const xt=label(o.xl[0],o.xl[1],"Log",11);
  xt.append("tspan").attr("font-size",7.5).attr("dy",-3.5).text("2");
  xt.append("tspan").attr("dy",3.5).text(" fold change");
  const yt=svg.append("text").attr("transform",`translate(${o.yl[0]},${o.yl[1]}) rotate(-90)`).attr("text-anchor","middle").attr("font-size",11).text("\u2212Log");
  yt.append("tspan").attr("font-size",7.5).attr("dy",2.5).text("10");
  yt.append("tspan").attr("dy",-2.5).text(" (");
  yt.append("tspan").attr("font-style","italic").text("P");
  yt.append("tspan").text(" value)");
}

// ---------- (a)
(function(){
  const x=d3.scalePoint().domain(boxCategories).range([96,174]);
  const y=d3.scaleLinear().domain([5.5,7.5]).range([162.5,5.5]);
  const off=d3.scaleLinear().domain([-1,1]).range([-26,26]);
  const cols=["#c20f0c","#23869d"], dark=["#3a2a2a","#274a55"];
  const g=svg.append("g");
  boxCategories.forEach((c,i)=>{
    const s=boxStats[i],cx=x(c);
    g.append("line").attr("x1",cx).attr("x2",cx).attr("y1",y(s.min)).attr("y2",y(s.max)).attr("stroke","#555").attr("stroke-width",2);
    [s.min,s.max].forEach(v=>g.append("line").attr("x1",cx-14).attr("x2",cx+14).attr("y1",y(v)).attr("y2",y(v)).attr("stroke","#444").attr("stroke-width",1));
    g.append("rect").attr("x",cx-26).attr("width",52).attr("y",y(s.q3)).attr("height",y(s.q1)-y(s.q3)).attr("fill",cols[i]).attr("stroke","#3d4a4d").attr("stroke-width",1);
    g.append("line").attr("x1",cx-26).attr("x2",cx+26).attr("y1",y(s.med)).attr("y2",y(s.med)).attr("stroke",dark[i]).attr("stroke-width",1);
    g.selectAll(null).data(i?controlDots:adDots).join("rect").attr("x",d=>cx+off(d[0])-1).attr("y",d=>y(d[1])-1).attr("width",2).attr("height",2).attr("fill","#0c0c0c");
  });
  const ay=g.append("g").attr("transform","translate(44,0)").call(d3.axisLeft(y).tickValues(boxTickValues).tickSize(4).tickPadding(3).tickFormat((d,i)=>boxTickLabels[i]));
  const ax=g.append("g").attr("transform","translate(0,162.5)").call(d3.axisBottom(x).tickSize(4).tickPadding(4));
  ax.select(".domain").attr("d","M44,0H220");
  [ax,ay].forEach(a=>{a.selectAll(".domain,line").attr("stroke","#444");a.selectAll("text").attr("font-size",11.5).attr("font-family","Liberation Serif").attr("fill","#3a3a3a");});
  label(135,195.5,"GSE132903",10.5);
  svg.append("text").attr("transform","translate(9,84) rotate(-90)").attr("text-anchor","middle").attr("font-size",11).text("IGF1 expression values");
  [["Control",cols[1],213],["AD",cols[0],228]].forEach(([t,c,yy])=>{
    svg.append("rect").attr("x",44).attr("y",yy).attr("width",17).attr("height",5.5).attr("fill",c).attr("stroke","#445").attr("stroke-width",.8);
    label(68,yy+6,t,11.5,"start");
  });
  label(111,255,"(a)",10.5);
})();

// ---------- (b)
volcano({id:"b",xd:[-1.5,1],xr:[279.5,568],yd:[0,15],yr:[193.7,22.3],f:[277.5,7.5,601.5,200.5],
  blackBand:bBlackBand,blueBand:bBlueBand,redBand:bRedBand,blackPts:bBlack,bluePts:bBlue.concat(bBlueDense),redPts:bRed.concat(bRedDense),
  blue:"#1d2f7a",red:"#dc1414",bandOp:[.82,.92],vlines:[-.3],h:1.3,lineV:"#8a8a8a",lineH:"#9a9a9a",frame:"#555",
  tx:bTicksX,ty:bTicksY,xl:[440,233],yl:[247,104]});
label(441,-0.6,"Volcano map",10.5);
label(419,255,"(b)",10.5);

// ---------- (c)
volcano({id:"c",xd:[-2,1],xr:[160.7,441],yd:[0,40],yr:[468.3,305.3],f:[158.5,282.5,483,476],
  blackBand:cBlackBand,blueBand:cBlueBand,redBand:cRedBand,blackPts:cBlack,bluePts:cBlue.concat(cBlueDense),redPts:cRed.concat(cRedDense),
  blue:"#1d2f7a",red:"#d01010",bandOp:[.85,.95],vlines:[-.3,.3],h:1,lineV:"#555",lineH:"#666",frame:"#888",
  tx:cTicksX,ty:cTicksY,xl:[320.7,509],yl:[126,380]});
label(318,274,"Volcano map",10.5);
label(299,529,"(c)",10.5);

// ---------- (d)
(function(){
  const rows=heatRows.map(r=>r.replace(/ /g,""));
  const nCol=rows[0].length;
  const X0=165.3,X1=443.3,Y0=617.3,Y1=975;
  const cx=d3.scaleBand().domain(d3.range(nCol)).range([X0,X1]);
  const ry=d3.scaleBand().domain(d3.range(rows.length)).range([Y0,Y1]);
  const col=d3.scaleLinear().domain([-1,0,1]).range(["#2f8f1e","#000","#dc0a0a"]);
  const val=ch=>{if(ch===".")return 0;const l=ch.toLowerCase().charCodeAt(0)-96;return (ch===ch.toUpperCase()?1:-1)*Math.pow(l/9,1.5);};
  const g=svg.append("g").attr("shape-rendering","crispEdges");
  rows.forEach((r,i)=>{
    g.selectAll(null).data(r.split("")).join("rect").attr("x",(d,j)=>cx(j)).attr("y",ry(i)).attr("width",cx.bandwidth()+.7).attr("height",ry.bandwidth()+.7).attr("fill",d=>col(val(d)));
  });
  const total=d3.sum(sampleRuns);
  const sx=d3.scaleLinear().domain([0,total]).range([X0,X1]);
  const annCol=d3.scaleOrdinal().domain(sampleGroups).range(["#1b8ea8","#e8534f"]);
  let pos=0;
  sampleRuns.forEach((n,i)=>{
    svg.append("rect").attr("x",sx(pos)).attr("y",604.7).attr("width",sx(pos+n)-sx(pos)+.2).attr("height",10.3).attr("fill",annCol(sampleGroups[i%2]));
    pos+=n;
  });
  label(451,608.5,"Sample",10.5,"start");
  function dendro(tree,leafScale,hScale,vertical,stroke,w){
    const root=d3.hierarchy(tree,d=>Array.isArray(d)?d.slice(1):null);
    const leaves=root.leaves();
    leaves.forEach((l,i)=>{l.pos=leafScale(i+.5);l.h=0;});
    root.eachAfter(n=>{if(n.children){n.pos=d3.mean(n.children,c=>c.pos);n.h=n.data[0];}});
    const path=d3.path();
    root.each(n=>{if(!n.children)return;
      const [a,b]=n.children;
      if(vertical){path.moveTo(a.pos,hScale(a.h));path.lineTo(a.pos,hScale(n.h));path.lineTo(b.pos,hScale(n.h));path.lineTo(b.pos,hScale(b.h));}
      else{path.moveTo(hScale(a.h),a.pos);path.lineTo(hScale(n.h),a.pos);path.lineTo(hScale(n.h),b.pos);path.lineTo(hScale(b.h),b.pos);}
    });
    svg.append("path").attr("d",path.toString()).attr("fill","none").attr("stroke",stroke).attr("stroke-width",w);
    return leaves.length;
  }
  const nc=d3.hierarchy(colTree,d=>Array.isArray(d)?d.slice(1):null).leaves().length;
  dendro(colTree,d3.scaleLinear().domain([0,nc]).range([X0,X1]),d3.scaleLinear().domain([0,8,187]).range([603.3,596.5,541]),true,"#111",1.35);
  const nr=rows.length;
  dendro(rowTree,d3.scaleLinear().domain([0,nr]).range([Y0,Y1]),d3.scaleLinear().domain([0,186]).range([X0,103.3]),false,"#1c1c1c",1.05);
  const defs=svg.append("defs");
  const gr=defs.append("linearGradient").attr("id","cb").attr("x1",0).attr("x2",0).attr("y1",0).attr("y2",1);
  [["0%","#dc0a0a"],["50%","#000"],["100%","#2f8f1e"]].forEach(s=>gr.append("stop").attr("offset",s[0]).attr("stop-color",s[1]));
  svg.append("rect").attr("x",455.3).attr("y",619.3).attr("width",13.4).attr("height",356.4).attr("fill","url(#cb)");
  [[636,heatLabels[0]],[802,heatLabels[1]],[973.5,heatLabels[2]]].forEach(([yy,t])=>label(474,yy,t,10.5,"start"));
  [["AD",sampleGroups[0],989],["Control",sampleGroups[1],1002.5]].forEach(([t,gp,yy])=>{
    svg.append("rect").attr("x",168.3).attr("y",yy).attr("width",13.7).attr("height",13.5).attr("fill",annCol(gp));
    label(189,yy+9.5,t,10.5,"start");
  });
  label(299,1033,"(d)",10.5);
})();
</script></body></html>
